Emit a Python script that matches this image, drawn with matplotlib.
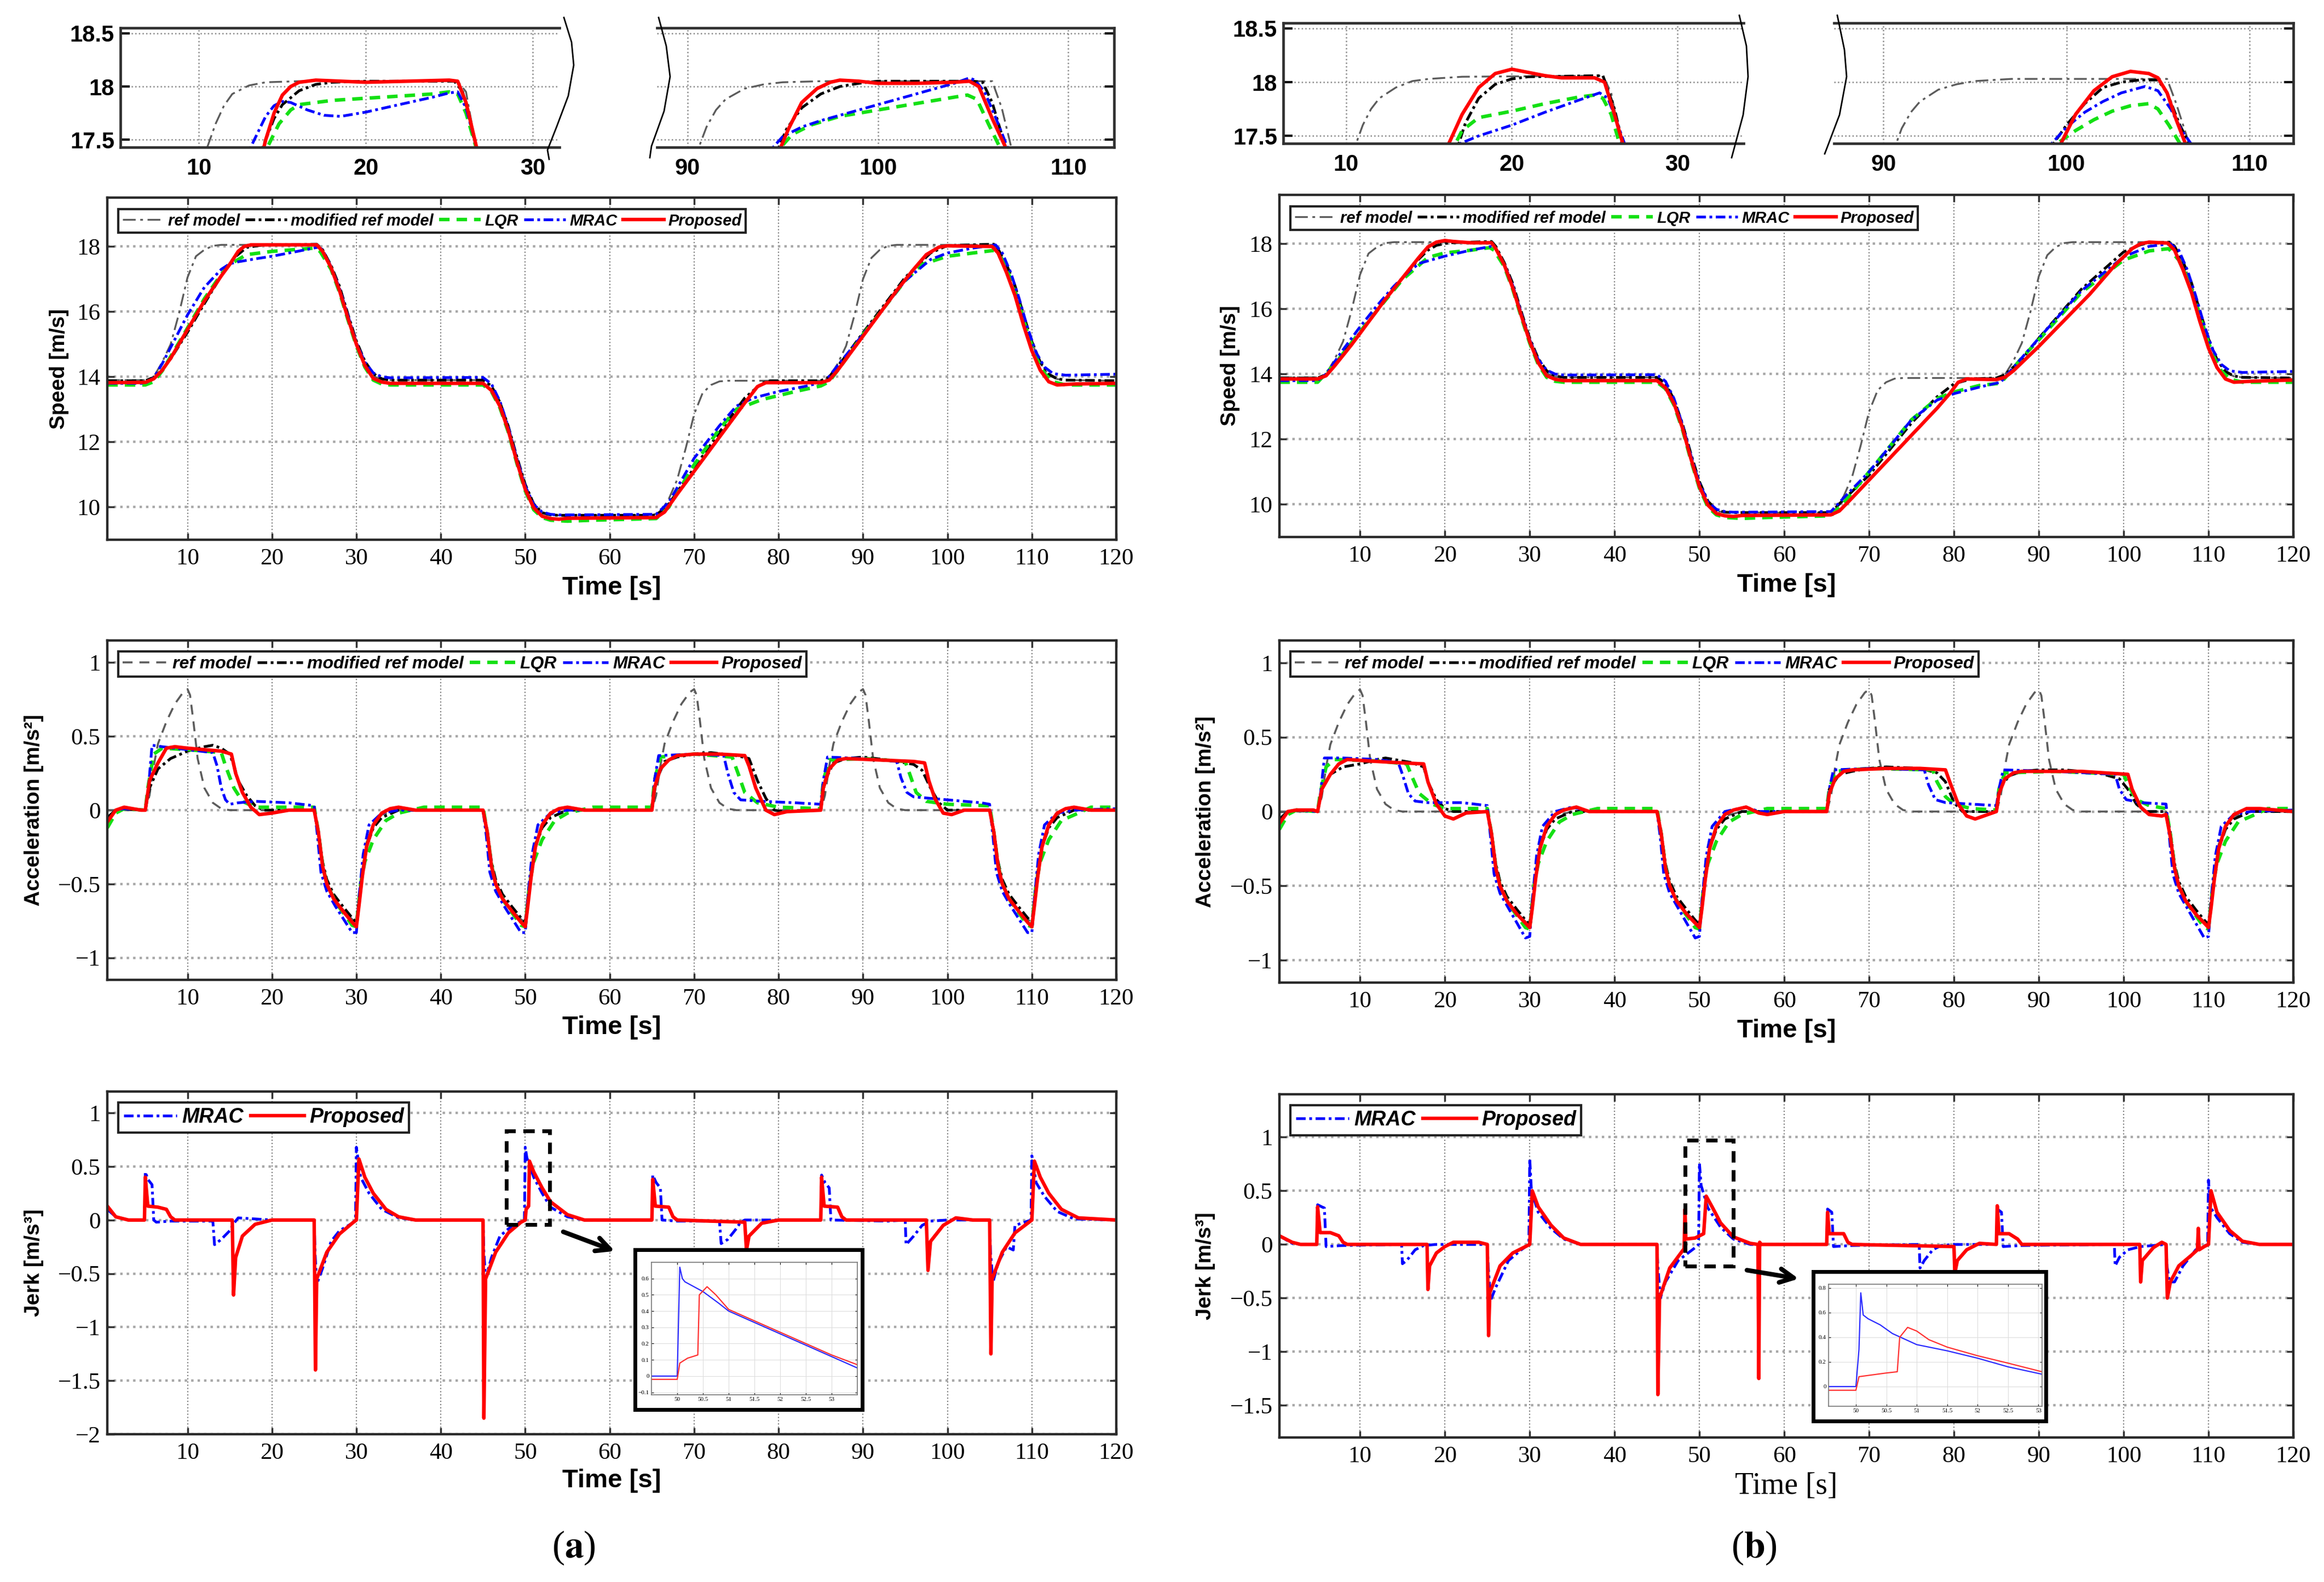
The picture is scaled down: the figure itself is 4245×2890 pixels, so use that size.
import matplotlib.pyplot as plt
from matplotlib import font_manager
from matplotlib.lines import Line2D
from matplotlib.patches import Rectangle

W, H = 4245, 2890

installed = {f.name for f in font_manager.fontManager.ttflist}
NARROW = 'Liberation Sans Narrow' if 'Liberation Sans Narrow' in installed else 'Liberation Sans'
SERIF = 'Liberation Serif'
SANS = 'Liberation Sans'

# ---------------- data: speed ----------------
time_ticks = [10, 20, 30, 40, 50, 60, 70, 80, 90, 100, 110, 120]
labels_main = ['ref model', 'modified ref model', 'LQR', 'MRAC', 'Proposed']

spd_ref = [(0.5, 13.9), (5, 13.9), (6, 14.0), (7, 14.45), (8, 15.0), (9, 15.95), (10, 17.05),
           (11, 17.7), (12, 17.9), (13, 18.02), (14, 18.05), (25.3, 18.05), (26, 17.88), (27, 17.4),
           (28, 16.72), (29, 15.85), (30, 15.02), (31, 14.4), (32, 14.02), (33, 13.92), (34, 13.9),
           (45, 13.9), (46, 13.72), (47, 13.2), (48, 12.45), (49, 11.5), (50, 10.65), (51, 10.05),
           (52, 9.8), (53, 9.75), (65, 9.75), (66, 9.85), (67, 10.25), (68, 10.85), (69, 11.8),
           (70, 12.85), (71, 13.5), (72, 13.75), (73, 13.86), (74, 13.88), (85, 13.88), (86, 13.98),
           (87, 14.4), (88, 14.95), (89, 15.9), (90, 17.0), (91, 17.65), (92, 17.9), (93, 18.02),
           (94, 18.05), (105.5, 18.05), (106, 17.9), (107, 17.42), (108, 16.75), (109, 15.88),
           (110, 15.05), (111, 14.42), (112, 14.05), (113, 13.93), (114, 13.9), (120, 13.88)]

spd_a_mod = [(0.5, 13.88), (5, 13.88), (6, 13.98), (7, 14.22), (8, 14.55), (10, 15.37), (12, 16.25),
             (14, 17.1), (15.5, 17.65), (17, 17.97), (19, 18.05), (25.3, 18.07), (26, 17.9), (27, 17.42),
             (28, 16.78), (29, 15.92), (30, 15.1), (31, 14.48), (32, 14.1), (33, 13.94), (34, 13.9),
             (45, 13.9), (46, 13.72), (47, 13.22), (48, 12.48), (49, 11.55), (50, 10.7), (51, 10.1),
             (52, 9.83), (53, 9.76), (54, 9.75), (65.5, 9.75), (67, 10.1), (70, 11.2), (73, 12.3),
             (76, 13.35), (78, 13.8), (79, 13.88), (85, 13.88), (86, 14.0), (88, 14.65), (90, 15.35),
             (95, 17.05), (98, 17.8), (100, 18.03), (105.5, 18.07), (106, 17.92), (107, 17.45),
             (108, 16.8), (109, 15.92), (110, 15.08), (111, 14.45), (112, 14.08), (113, 13.94),
             (114, 13.9), (120, 13.88)]

spd_a_lqr = [(0.5, 13.75), (5, 13.75), (6, 13.85), (7, 14.18), (8, 14.62), (10, 15.5), (12, 16.4),
             (14, 17.15), (15, 17.45), (17, 17.75), (20, 17.85), (25, 17.95), (25.7, 17.85), (27, 17.3),
             (28, 16.6), (29, 15.75), (30, 14.95), (31, 14.3), (32, 13.9), (33, 13.78), (34, 13.75),
             (45, 13.75), (46, 13.55), (47, 13.05), (48, 12.3), (49, 11.35), (50, 10.5), (51, 9.92),
             (52, 9.68), (53, 9.6), (55, 9.57), (58, 9.6), (65.5, 9.65), (67, 10.0), (70, 11.3),
             (73, 12.4), (75, 13.0), (78, 13.3), (82, 13.55), (85, 13.72), (86, 13.85), (88, 14.55),
             (90, 15.3), (95, 16.95), (97, 17.45), (100, 17.7), (103, 17.8), (105.5, 17.88),
             (106.5, 17.6), (107.5, 17.0), (108.5, 16.2), (109.5, 15.35), (110.5, 14.6), (111.5, 14.1),
             (112.5, 13.85), (114, 13.75), (120, 13.75)]

spd_a_mrac = [(0.5, 13.8), (5, 13.8), (6, 13.97), (7, 14.4), (8, 14.9), (10, 15.9), (12, 16.75),
              (14, 17.3), (15, 17.47), (16, 17.53), (18, 17.62), (20, 17.7), (23, 17.85), (25.5, 17.98),
              (26, 17.9), (27, 17.38), (28, 16.72), (29, 15.88), (30, 15.05), (31, 14.45), (32, 14.12),
              (33, 14.0), (34, 13.97), (45, 13.98), (46, 13.78), (47, 13.25), (48, 12.45), (49, 11.5),
              (50, 10.65), (51, 10.08), (52, 9.85), (53, 9.78), (54, 9.76), (65.5, 9.78), (67, 10.15),
              (70, 11.5), (73, 12.5), (75, 13.1), (77, 13.35), (80, 13.55), (83, 13.7), (85.5, 13.85),
              (87, 14.35), (90, 15.3), (95, 16.95), (98, 17.6), (100, 17.8), (103, 17.95),
              (105.7, 18.05), (106.5, 17.8), (107.5, 17.2), (108.5, 16.4), (109.5, 15.5),
              (110.5, 14.75), (111.5, 14.3), (112.5, 14.1), (114, 14.05), (120, 14.08)]

spd_a_prop = [(0.5, 13.82), (5, 13.83), (6, 13.94), (7, 14.2), (8, 14.57), (10, 15.45), (12, 16.33),
              (14, 17.1), (15, 17.45), (16, 17.85), (16.7, 18.0), (17.5, 18.05), (25.3, 18.05),
              (26, 17.85), (27, 17.35), (28, 16.65), (29, 15.8), (30, 15.0), (31, 14.35), (32, 13.95),
              (33, 13.84), (34, 13.8), (45, 13.8), (46, 13.58), (47, 13.1), (48, 12.35), (49, 11.4),
              (50, 10.55), (51, 9.98), (52, 9.72), (53, 9.65), (54, 9.63), (55, 9.66), (65.5, 9.68),
              (66.5, 9.85), (68, 10.4), (70, 11.1), (72, 11.8), (74, 12.5), (76, 13.2), (77.5, 13.7),
              (78.5, 13.82), (85, 13.82), (86, 13.9), (87, 14.2), (88, 14.55), (90, 15.25), (92, 15.95),
              (94, 16.65), (96, 17.3), (97.5, 17.75), (99, 17.98), (100, 18.02), (105.3, 18.0),
              (106, 17.8), (107, 17.2), (108, 16.5), (109, 15.6), (110, 14.8), (111, 14.2), (112, 13.85),
              (113, 13.75), (115, 13.78), (120, 13.8)]

spd_b_mod = [(0.5, 13.88), (5, 13.88), (6, 13.98), (7, 14.3), (9, 14.95), (11, 15.6), (13, 16.3),
             (15, 16.95), (17, 17.55), (18, 17.8), (19, 17.95), (20.5, 18.03), (25.5, 18.07),
             (26, 17.92), (27, 17.42), (28, 16.78), (29, 15.92), (30, 15.1), (31, 14.48), (32, 14.1),
             (33, 13.94), (34, 13.9), (45, 13.9), (46, 13.72), (47, 13.22), (48, 12.48), (49, 11.55),
             (50, 10.7), (51, 10.1), (52, 9.83), (53, 9.76), (54, 9.75), (65.5, 9.75), (67, 10.15),
             (70, 10.9), (75, 12.5), (78, 13.3), (80, 13.7), (82, 13.85), (85, 13.88), (86, 13.98),
             (88, 14.45), (90, 15.1), (95, 16.6), (100, 17.75), (102, 17.97), (103, 18.03),
             (105.5, 18.05), (106, 17.92), (107, 17.45), (108, 16.8), (109, 15.92), (110, 15.08),
             (111, 14.45), (112, 14.08), (113, 13.94), (114, 13.9), (120, 13.88)]

spd_b_lqr = [(0.5, 13.75), (5, 13.75), (7, 14.3), (10, 15.3), (12, 15.95), (15, 16.9), (17, 17.35),
             (18, 17.58), (20, 17.72), (23, 17.8), (25.3, 17.88), (25.8, 17.8), (27, 17.3), (28, 16.6),
             (29, 15.75), (30, 14.95), (31, 14.3), (32, 13.9), (33, 13.78), (34, 13.75), (45, 13.75),
             (46, 13.55), (47, 13.05), (48, 12.3), (49, 11.35), (50, 10.5), (51, 9.92), (52, 9.68),
             (53, 9.6), (55, 9.57), (58, 9.6), (65.5, 9.65), (67, 10.05), (70, 11.0), (75, 12.6),
             (78, 13.25), (80, 13.45), (83, 13.65), (85.5, 13.72), (88, 14.5), (90, 15.05), (95, 16.5),
             (100, 17.5), (103, 17.78), (105.3, 17.85), (106.5, 17.5), (107.5, 16.95), (108.5, 16.2),
             (109.5, 15.35), (110.5, 14.6), (111.5, 14.1), (112.5, 13.85), (114, 13.75), (120, 13.75)]

spd_b_mrac = [(0.5, 13.8), (5, 13.8), (6, 14.0), (8, 14.75), (10, 15.45), (12, 16.1), (14, 16.7),
              (16, 17.2), (17, 17.4), (20, 17.62), (23, 17.8), (25.5, 17.92), (26, 17.85), (27, 17.38),
              (28, 16.72), (29, 15.88), (30, 15.05), (31, 14.45), (32, 14.12), (33, 14.0), (34, 13.97),
              (45, 13.98), (46, 13.78), (47, 13.25), (48, 12.45), (49, 11.5), (50, 10.65), (51, 10.08),
              (52, 9.85), (53, 9.78), (54, 9.76), (65.5, 9.78), (67, 10.2), (70, 11.0), (75, 12.6),
              (78, 13.2), (80, 13.4), (83, 13.6), (85.5, 13.75), (88, 14.5), (90, 15.1), (95, 16.55),
              (100, 17.6), (103, 17.92), (105.5, 18.0), (106.5, 17.8), (107.5, 17.2), (108.5, 16.4),
              (109.5, 15.5), (110.5, 14.75), (111.5, 14.3), (112.5, 14.1), (114, 14.05), (120, 14.08)]

spd_b_prop = [(0.5, 13.85), (5, 13.85), (6, 13.95), (7, 14.25), (9, 14.9), (11, 15.6), (13, 16.3),
              (15, 16.95), (17, 17.6), (18, 17.9), (19, 18.05), (20, 18.1), (21, 18.07), (23, 18.03),
              (25.5, 18.03), (26, 17.85), (27, 17.35), (28, 16.65), (29, 15.8), (30, 15.0), (31, 14.35),
              (32, 13.95), (33, 13.84), (34, 13.8), (45, 13.8), (46, 13.58), (47, 13.1), (48, 12.35),
              (49, 11.4), (50, 10.55), (51, 9.98), (52, 9.72), (53, 9.65), (54, 9.63), (55, 9.66),
              (65.5, 9.68), (66.5, 9.8), (68, 10.2), (70, 10.75), (72, 11.3), (74, 11.85), (76, 12.4),
              (78, 12.95), (79.5, 13.4), (80.5, 13.75), (81.5, 13.85), (85, 13.83), (86, 13.9),
              (87, 14.1), (90, 14.85), (93, 15.65), (96, 16.45), (99, 17.35), (100, 17.6), (101, 17.85),
              (102, 18.0), (103, 18.05), (105.2, 18.02), (106, 17.8), (107, 17.2), (108, 16.5),
              (109, 15.6), (110, 14.8), (111, 14.2), (112, 13.85), (113, 13.75), (115, 13.78),
              (120, 13.82)]

# ---------------- data: speed close-ups (top strips) ----------------
zm_a1_ref = [(10.5, 17.43), (11, 17.65), (11.5, 17.82), (12, 17.93), (13, 18.01), (14, 18.04),
             (16, 18.05), (25.5, 18.05), (26, 17.95), (26.6, 17.43), (27, 17.2)]
zm_a1_mod = [(13.5, 17.3), (14, 17.5), (14.5, 17.7), (15, 17.83), (16, 17.96), (17, 18.02),
             (18, 18.04), (20, 18.05), (25.3, 18.05), (25.8, 17.95), (26.6, 17.43), (27, 17.2)]
zm_a1_lqr = [(13.8, 17.3), (14.1, 17.43), (14.8, 17.65), (15.5, 17.78), (16, 17.83), (18, 17.87),
             (20, 17.89), (22, 17.91), (24, 17.93), (25, 17.95), (25.5, 17.93), (26, 17.75),
             (26.6, 17.43), (27, 17.2)]
zm_a1_mrac = [(12.7, 17.3), (13.1, 17.43), (14, 17.72), (14.5, 17.82), (15, 17.86), (15.5, 17.85),
              (16.5, 17.78), (17.5, 17.73), (18.5, 17.72), (20, 17.76), (22, 17.83), (24, 17.9),
              (25, 17.94), (25.5, 17.95), (26, 17.8), (26.6, 17.45), (27, 17.2)]
zm_a1_prop = [(13.7, 17.3), (14, 17.5), (14.5, 17.75), (15, 17.92), (15.5, 18.0), (16, 18.04),
              (17, 18.06), (20, 18.04), (25, 18.06), (25.5, 18.05), (26, 17.85), (26.6, 17.45),
              (27, 17.2)]

zm_a2_ref = [(90.4, 17.3), (90.6, 17.43), (91, 17.62), (91.5, 17.78), (92, 17.88), (93, 17.98),
             (94, 18.02), (95, 18.04), (97, 18.05), (106, 18.05), (106.5, 17.8), (107, 17.43),
             (107.3, 17.2)]
zm_a2_mod = [(94.6, 17.3), (94.8, 17.43), (95.2, 17.6), (96, 17.8), (97, 17.93), (98, 18.0),
             (99, 18.03), (100, 18.05), (105, 18.05), (105.5, 18.04), (106, 17.85), (106.7, 17.43),
             (107, 17.2)]
zm_a2_lqr = [(94.7, 17.3), (94.9, 17.43), (95.5, 17.55), (96.5, 17.64), (98, 17.72), (100, 17.78),
             (102, 17.84), (104, 17.9), (104.7, 17.92), (105.2, 17.88), (105.8, 17.65), (106.4, 17.43),
             (106.7, 17.2)]
zm_a2_mrac = [(94.3, 17.3), (94.5, 17.43), (95, 17.53), (96, 17.62), (97, 17.68), (98, 17.73),
              (100, 17.83), (102, 17.93), (104, 18.03), (104.8, 18.08), (105.1, 18.06), (105.6, 17.95),
              (106.2, 17.7), (106.8, 17.43), (107.1, 17.2)]
zm_a2_prop = [(94.7, 17.3), (94.9, 17.43), (95.3, 17.6), (96, 17.85), (96.8, 17.98), (97.5, 18.04),
              (98, 18.06), (99, 18.05), (100, 18.03), (102, 18.03), (104, 18.04), (104.8, 18.05),
              (105.3, 18.0), (106, 17.7), (106.7, 17.43), (107, 17.2)]

zm_b1_ref = [(10.4, 17.3), (10.6, 17.43), (11, 17.6), (11.5, 17.75), (12, 17.85), (13, 17.95),
             (14, 18.01), (15, 18.03), (17, 18.05), (25.5, 18.06), (26, 17.9), (26.6, 17.43), (27, 17.2)]
zm_b1_mod = [(16.6, 17.3), (16.8, 17.43), (17.2, 17.62), (18, 17.85), (19, 17.98), (20, 18.03),
             (21, 18.05), (25.5, 18.06), (26.2, 17.75), (26.7, 17.43), (27, 17.2)]
zm_b1_lqr = [(16.4, 17.3), (16.6, 17.43), (17, 17.55), (18, 17.67), (20, 17.73), (22, 17.8),
             (24, 17.86), (25, 17.88), (25.5, 17.85), (26, 17.7), (26.5, 17.43), (26.8, 17.2)]
zm_b1_mrac = [(16.6, 17.3), (16.9, 17.43), (18, 17.5), (20, 17.6), (22, 17.72), (24, 17.83),
              (25.3, 17.9), (25.8, 17.85), (26.3, 17.65), (26.8, 17.43), (27.1, 17.2)]
zm_b1_prop = [(16.0, 17.3), (16.2, 17.43), (17, 17.7), (18, 17.95), (19, 18.08), (20, 18.12),
              (21, 18.09), (22, 18.06), (23, 18.04), (25, 18.04), (25.6, 18.0), (26.2, 17.7),
              (26.7, 17.43), (27, 17.2)]

zm_b2_ref = [(90.5, 17.3), (90.7, 17.43), (91, 17.57), (91.5, 17.72), (92, 17.82), (93, 17.93),
             (94, 17.98), (95, 18.01), (97, 18.03), (105.5, 18.03), (106, 17.8), (106.7, 17.43),
             (107, 17.2)]
zm_b2_mod = [(99.1, 17.3), (99.3, 17.43), (100, 17.6), (101, 17.8), (102, 17.95), (103, 18.0),
             (104, 18.02), (105, 18.02), (105.5, 17.9), (106.2, 17.6), (106.7, 17.43), (107, 17.2)]
zm_b2_lqr = [(99.3, 17.3), (99.5, 17.43), (100.5, 17.55), (101.5, 17.65), (102.5, 17.73),
             (103.5, 17.78), (104.5, 17.8), (105, 17.75), (105.6, 17.6), (106.2, 17.43), (106.5, 17.2)]
zm_b2_mrac = [(99.0, 17.3), (99.2, 17.43), (100, 17.58), (101, 17.72), (102, 17.82), (103, 17.9),
              (104.3, 17.96), (105, 17.92), (105.7, 17.75), (106.3, 17.55), (106.8, 17.43), (107.1, 17.2)]
zm_b2_prop = [(99.5, 17.3), (99.7, 17.43), (100.5, 17.7), (101.5, 17.92), (102.5, 18.05),
              (103.5, 18.1), (104.5, 18.08), (105, 18.04), (105.5, 17.9), (106, 17.65), (106.5, 17.43),
              (106.8, 17.2)]

# ---------------- data: acceleration ----------------
acc_ref = [(0.5, 0), (5, 0), (5.5, 0.1), (6, 0.3), (6.5, 0.45), (7.5, 0.6), (8.5, 0.72), (9.5, 0.8),
           (10, 0.82), (10.3, 0.78), (10.7, 0.6), (11.2, 0.35), (12, 0.15), (13, 0.05), (14, 0.01),
           (15, 0), (25, 0), (25.5, -0.15), (26, -0.38), (26.5, -0.5), (27.3, -0.6), (28.5, -0.68),
           (29.5, -0.74), (30, -0.76), (30.3, -0.6), (30.7, -0.4), (31.2, -0.22), (32, -0.1),
           (33, -0.03), (35, 0), (45, 0), (45.5, -0.15), (46, -0.38), (46.5, -0.5), (47.3, -0.6),
           (48.5, -0.68), (49.5, -0.74), (50, -0.76), (50.3, -0.6), (50.7, -0.4), (51.2, -0.22),
           (52, -0.1), (53, -0.03), (55, 0), (65, 0), (65.5, 0.1), (66, 0.3), (66.5, 0.45), (67.5, 0.6),
           (68.5, 0.72), (69.5, 0.8), (70, 0.82), (70.3, 0.78), (70.7, 0.6), (71.2, 0.35), (72, 0.15),
           (73, 0.05), (74, 0.01), (75, 0), (85, 0), (85.5, 0.1), (86, 0.3), (86.5, 0.45), (87.5, 0.6),
           (88.5, 0.72), (89.5, 0.8), (90, 0.82), (90.3, 0.78), (90.7, 0.6), (91.2, 0.35), (92, 0.15),
           (93, 0.05), (94, 0.01), (95, 0), (105, 0), (105.5, -0.15), (106, -0.38), (106.5, -0.5),
           (107.3, -0.6), (108.5, -0.68), (109.5, -0.74), (110, -0.76), (110.3, -0.6), (110.7, -0.4),
           (111.2, -0.22), (112, -0.1), (113, -0.03), (115, 0), (120, 0)]

acc_a_mod = [(0.5, -0.05), (1.5, 0.0), (2.5, 0.01), (4.5, 0.0), (5, 0.0), (5.5, 0.15), (6.5, 0.28),
             (8, 0.35), (10, 0.4), (12, 0.43), (13, 0.44), (14, 0.42), (15, 0.38), (15.5, 0.3),
             (16, 0.2), (17, 0.1), (18, 0.03), (19, 0.0), (25, 0.0), (25.5, -0.14), (26, -0.35),
             (26.5, -0.47), (27.3, -0.57), (28.5, -0.66), (29.5, -0.73), (30, -0.76), (30.3, -0.6),
             (30.7, -0.42), (31.2, -0.25), (32, -0.12), (33, -0.05), (35, 0.0), (45, 0.0), (45.5, -0.14),
             (46, -0.35), (46.5, -0.47), (47.3, -0.57), (48.5, -0.66), (49.5, -0.73), (50, -0.76),
             (50.3, -0.6), (50.7, -0.42), (51.2, -0.25), (52, -0.12), (53, -0.05), (55, 0.0), (65, 0.0),
             (65.5, 0.2), (66.5, 0.33), (68, 0.36), (70, 0.38), (72, 0.39), (75, 0.37), (76.5, 0.35),
             (77.5, 0.2), (78.5, 0.08), (79.5, 0.0), (80.5, -0.01), (85, 0.0), (85.5, 0.2), (86.5, 0.32),
             (88, 0.35), (90, 0.36), (93, 0.34), (96, 0.31), (97, 0.27), (98, 0.15), (99, 0.05),
             (100, 0.0), (105, 0.0), (105.5, -0.14), (106, -0.35), (106.5, -0.47), (107.3, -0.57),
             (108.5, -0.66), (109.5, -0.73), (110, -0.76), (110.3, -0.6), (110.7, -0.42),
             (111.2, -0.25), (112, -0.12), (113, -0.05), (115, 0.0), (120, 0.0)]

acc_a_lqr = [(0.5, -0.12), (1.5, -0.02), (2.5, 0.01), (5, 0.0), (5.3, 0.15), (6, 0.38), (7, 0.42),
             (10, 0.41), (14, 0.39), (14.5, 0.3), (15.5, 0.15), (16.5, 0.06), (18, 0.02), (25, 0.02),
             (25.5, -0.15), (26, -0.37), (26.5, -0.5), (27.5, -0.62), (28.5, -0.7), (29.5, -0.78),
             (30, -0.79), (30.5, -0.5), (31, -0.35), (32, -0.2), (33.5, -0.07), (35, -0.02),
             (38, 0.02), (45, 0.02), (45.5, -0.15), (46, -0.37), (46.5, -0.5), (47.5, -0.62),
             (48.5, -0.7), (49.5, -0.78), (50, -0.79), (50.5, -0.5), (51, -0.35), (52, -0.2),
             (53.5, -0.07), (55, -0.02), (58, 0.02), (65, 0.02), (65.3, 0.2), (66, 0.36), (70, 0.38),
             (74.5, 0.36), (75.2, 0.25), (76, 0.12), (77.5, 0.05), (80, 0.02), (85, 0.01), (85.3, 0.2),
             (86, 0.34), (90, 0.35), (95, 0.33), (95.5, 0.25), (96.3, 0.12), (97.5, 0.06), (100, 0.04),
             (105, 0.03), (105.5, -0.15), (106, -0.37), (106.5, -0.5), (107.5, -0.62), (108.5, -0.7),
             (109.5, -0.78), (110, -0.79), (110.5, -0.5), (111, -0.35), (112, -0.2), (113.5, -0.07),
             (115.5, -0.02), (117, 0.02), (120, 0.02)]

acc_a_mrac = [(0.5, -0.08), (1.5, 0.0), (2.5, 0.01), (5, 0.0), (5.3, 0.1), (5.8, 0.44), (7, 0.43),
              (10, 0.41), (13, 0.39), (13.5, 0.3), (14, 0.15), (14.5, 0.07), (15, 0.04), (16, 0.05),
              (18, 0.06), (22, 0.05), (25, 0.03), (25.4, -0.18), (25.8, -0.42), (26.5, -0.55),
              (27.5, -0.65), (28.5, -0.74), (29.5, -0.83), (30, -0.83), (30.3, -0.6), (30.8, -0.3),
              (31.5, -0.1), (33, -0.02), (35, 0.0), (45, 0.0), (45.4, -0.18), (45.8, -0.42),
              (46.5, -0.55), (47.5, -0.65), (48.5, -0.74), (49.5, -0.83), (50, -0.83), (50.3, -0.6),
              (50.8, -0.3), (51.5, -0.1), (53, -0.02), (55, 0.0), (65, 0.0), (65.3, 0.2), (65.8, 0.37),
              (70, 0.38), (73.5, 0.37), (74, 0.25), (74.7, 0.12), (75.5, 0.07), (78, 0.06), (82, 0.05),
              (85, 0.04), (85.3, 0.2), (85.8, 0.36), (90, 0.35), (94, 0.33), (94.5, 0.22), (95.2, 0.12),
              (96, 0.09), (100, 0.07), (104, 0.05), (105, 0.04), (105.4, -0.18), (105.8, -0.42),
              (106.5, -0.55), (107.5, -0.65), (108.5, -0.74), (109.5, -0.83), (110, -0.83),
              (110.3, -0.6), (110.8, -0.3), (111.5, -0.1), (113, -0.02), (115, 0.0), (120, 0.01)]

acc_a_prop = [(0.5, -0.08), (1.5, 0.0), (2.5, 0.02), (4.5, 0.0), (5, 0.0), (5.5, 0.2), (6.5, 0.32),
              (7.5, 0.42), (8.5, 0.43), (10, 0.42), (12, 0.41), (14, 0.4), (15.2, 0.38), (15.7, 0.25),
              (16.5, 0.12), (17.5, 0.02), (18.5, -0.03), (20, -0.02), (22, 0.0), (25, 0.0),
              (25.5, -0.15), (26, -0.38), (26.5, -0.5), (27.3, -0.6), (28.5, -0.69), (29.5, -0.76),
              (30, -0.79), (30.3, -0.65), (30.7, -0.45), (31.2, -0.25), (32, -0.1), (33, -0.02),
              (34, 0.01), (35, 0.02), (37, 0.0), (45, 0.0), (45.5, -0.15), (46, -0.38), (46.5, -0.5),
              (47.3, -0.6), (48.5, -0.69), (49.5, -0.76), (50, -0.79), (50.3, -0.65), (50.7, -0.45),
              (51.2, -0.25), (52, -0.1), (53, -0.02), (54, 0.01), (55, 0.02), (57, 0.0), (65, 0.0),
              (65.3, 0.15), (66, 0.28), (67, 0.34), (68, 0.37), (70, 0.38), (73, 0.38), (76, 0.37),
              (76.5, 0.3), (77.3, 0.15), (78.5, 0.0), (79.5, -0.03), (81, -0.01), (85, 0.0),
              (85.3, 0.15), (86, 0.28), (87, 0.34), (88, 0.35), (92, 0.34), (96, 0.33), (97.3, 0.32),
              (97.8, 0.2), (98.5, 0.08), (99.5, -0.02), (100.5, -0.03), (102, 0.0), (105, 0.0),
              (105.5, -0.15), (106, -0.38), (106.5, -0.5), (107.3, -0.6), (108.5, -0.69),
              (109.5, -0.76), (110, -0.79), (110.3, -0.65), (110.7, -0.45), (111.2, -0.25), (112, -0.1),
              (113, -0.02), (114, 0.01), (115, 0.02), (117, 0.0), (120, 0.0)]

acc_b_mod = [(0.5, -0.05), (1.5, 0.0), (2.5, 0.01), (5, 0.0), (5.5, 0.15), (6.5, 0.25), (8, 0.3),
             (10, 0.32), (12, 0.35), (13, 0.36), (14, 0.35), (16, 0.33), (17.5, 0.3), (18, 0.2),
             (19, 0.08), (20, 0.02), (21, 0.0), (25, 0.0), (25.5, -0.14), (26, -0.35), (26.5, -0.47),
             (27.3, -0.57), (28.5, -0.66), (29.5, -0.73), (30, -0.76), (30.3, -0.6), (30.7, -0.42),
             (31.2, -0.25), (32, -0.12), (33, -0.05), (35, 0.0), (45, 0.0), (45.5, -0.14), (46, -0.35),
             (46.5, -0.47), (47.3, -0.57), (48.5, -0.66), (49.5, -0.73), (50, -0.76), (50.3, -0.6),
             (50.7, -0.42), (51.2, -0.25), (52, -0.12), (53, -0.05), (55, 0.0), (65, 0.0), (65.3, 0.15),
             (66.5, 0.25), (68, 0.27), (70, 0.29), (72, 0.3), (76, 0.29), (78, 0.26), (79, 0.2),
             (80, 0.06), (81, 0.0), (85, 0.0), (85.3, 0.15), (86.5, 0.24), (88, 0.27), (90, 0.28),
             (93, 0.28), (97, 0.26), (99.5, 0.22), (100.5, 0.15), (101.5, 0.05), (102.5, 0.0),
             (105, 0.0), (105.5, -0.14), (106, -0.35), (106.5, -0.47), (107.3, -0.57), (108.5, -0.66),
             (109.5, -0.73), (110, -0.76), (110.3, -0.6), (110.7, -0.42), (111.2, -0.25), (112, -0.12),
             (113, -0.05), (115, 0.0), (120, 0.0)]

acc_b_lqr = [(0.5, -0.12), (1.5, -0.02), (2.5, 0.01), (5, 0.0), (5.3, 0.12), (6, 0.3), (7, 0.35),
             (12, 0.34), (15.5, 0.32), (16, 0.25), (17, 0.12), (18.5, 0.05), (20, 0.02), (25, 0.02),
             (25.5, -0.15), (26, -0.37), (26.5, -0.5), (27.5, -0.62), (28.5, -0.7), (29.5, -0.78),
             (30, -0.79), (30.5, -0.5), (31, -0.35), (32, -0.2), (33.5, -0.07), (35, -0.02), (38, 0.02),
             (45, 0.02), (45.5, -0.15), (46, -0.37), (46.5, -0.5), (47.5, -0.62), (48.5, -0.7),
             (49.5, -0.78), (50, -0.79), (50.5, -0.5), (51, -0.35), (52, -0.2), (53.5, -0.07),
             (55, -0.02), (58, 0.02), (65, 0.02), (65.3, 0.15), (66, 0.27), (70, 0.29), (77.5, 0.28),
             (78, 0.2), (79, 0.1), (80, 0.05), (82, 0.02), (85, 0.01), (85.3, 0.15), (86, 0.26),
             (92, 0.27), (100, 0.25), (100.5, 0.18), (101.5, 0.08), (103, 0.04), (105, 0.02),
             (105.5, -0.15), (106, -0.37), (106.5, -0.5), (107.5, -0.62), (108.5, -0.7), (109.5, -0.78),
             (110, -0.79), (110.5, -0.5), (111, -0.35), (112, -0.2), (113.5, -0.07), (115.5, -0.02),
             (117, 0.02), (120, 0.02)]

acc_b_mrac = [(0.5, -0.08), (1.5, 0.0), (2.5, 0.01), (5, 0.0), (5.3, 0.1), (5.8, 0.36), (8, 0.36),
              (12, 0.35), (14.5, 0.33), (15, 0.25), (15.7, 0.12), (16.5, 0.07), (18, 0.06), (22, 0.06),
              (25, 0.04), (25.4, -0.18), (25.8, -0.42), (26.5, -0.55), (27.5, -0.65), (28.5, -0.75),
              (29.5, -0.85), (30, -0.84), (30.3, -0.6), (30.8, -0.3), (31.5, -0.1), (33, 0.0),
              (35, 0.03), (37, 0.0), (45, 0.0), (45.4, -0.18), (45.8, -0.42), (46.5, -0.55),
              (47.5, -0.65), (48.5, -0.75), (49.5, -0.85), (50, -0.84), (50.3, -0.6), (50.8, -0.3),
              (51.5, -0.1), (53, 0.0), (55.5, 0.03), (57, 0.0), (65, 0.0), (65.3, 0.15), (65.8, 0.28),
              (70, 0.29), (76.5, 0.28), (77, 0.18), (77.8, 0.08), (79, 0.06), (82, 0.05), (85, 0.04),
              (85.3, 0.15), (85.8, 0.28), (92, 0.27), (99, 0.25), (99.5, 0.15), (100.3, 0.08),
              (102, 0.06), (105, 0.05), (105.4, -0.18), (105.8, -0.42), (106.5, -0.55), (107.5, -0.65),
              (108.5, -0.75), (109.5, -0.85), (110, -0.84), (110.3, -0.6), (110.8, -0.3),
              (111.5, -0.1), (113, -0.02), (115, 0.0), (120, 0.01)]

acc_b_prop = [(0.5, -0.08), (1.5, 0.0), (2.5, 0.01), (4.5, 0.01), (5, 0.0), (5.5, 0.15), (6.5, 0.25),
              (7.5, 0.32), (8.5, 0.35), (11, 0.34), (14, 0.33), (17.5, 0.32), (18, 0.2), (19, 0.05),
              (20, -0.03), (21, -0.05), (22.5, -0.01), (25, 0.0), (25.5, -0.15), (26, -0.38),
              (26.5, -0.5), (27.3, -0.6), (28.5, -0.69), (29.5, -0.75), (30, -0.78), (30.3, -0.65),
              (30.7, -0.45), (31.2, -0.25), (32, -0.1), (33, -0.02), (34, 0.01), (35.5, 0.03),
              (37, 0.0), (45, 0.0), (45.5, -0.15), (46, -0.38), (46.5, -0.5), (47.3, -0.6),
              (48.5, -0.69), (49.5, -0.75), (50, -0.78), (50.3, -0.65), (50.7, -0.45), (51.2, -0.25),
              (52, -0.1), (53, -0.02), (54, 0.01), (55.5, 0.03), (57, -0.01), (58, -0.02), (60, 0.0),
              (65, 0.0), (65.3, 0.12), (66, 0.22), (67, 0.27), (68, 0.28), (72, 0.29), (76, 0.29),
              (79, 0.28), (79.5, 0.2), (80.5, 0.05), (81.5, -0.03), (82.5, -0.05), (84, -0.02),
              (85, 0.0), (85.3, 0.12), (86, 0.22), (87, 0.26), (88, 0.27), (95, 0.27), (100.5, 0.25),
              (101, 0.15), (102, 0.03), (103, -0.02), (104.5, -0.03), (105, -0.02), (105.5, -0.17),
              (106, -0.38), (106.5, -0.5), (107.3, -0.6), (108.5, -0.69), (109.5, -0.75), (110, -0.78),
              (110.3, -0.65), (110.7, -0.45), (111.2, -0.25), (112, -0.1), (113, -0.02), (114.5, 0.02),
              (116, 0.02), (120, 0.0)]

# ---------------- data: jerk ----------------
jrk_a_mrac = [(0.5, 0.1), (1.5, 0.03), (3, 0.0), (4.9, 0.0), (5.0, 0.45), (5.3, 0.38), (5.8, 0.33),
              (6.0, 0.0), (6.3, -0.02), (8, -0.01), (13, -0.01), (13.2, -0.23), (14, -0.18),
              (15, -0.1), (15.5, -0.03), (16, 0.02), (18, 0.01), (20, 0.0), (25, 0.0), (25.1, -0.3),
              (25.3, -0.6), (26, -0.45), (27, -0.2), (28, -0.1), (29.5, -0.03), (29.9, 0.0),
              (30.0, 0.68), (30.5, 0.4), (31.5, 0.25), (33, 0.1), (35, 0.02), (37, 0.0), (45, 0.0),
              (45.1, -0.3), (45.3, -0.55), (46, -0.35), (47, -0.15), (48.5, -0.05), (49.9, 0.0),
              (50.0, 0.68), (50.2, 0.58), (51, 0.4), (52, 0.25), (53, 0.12), (55, 0.03), (57, 0.0),
              (65, 0.0), (65.1, 0.42), (65.5, 0.35), (66, 0.3), (66.2, 0.0), (68, -0.01), (73, -0.01),
              (73.2, -0.22), (74, -0.18), (75, -0.08), (75.5, -0.02), (76, 0.0), (85, 0.0),
              (85.1, 0.42), (85.5, 0.35), (86, 0.3), (86.2, 0.0), (93, -0.01), (95, 0.0),
              (95.1, -0.23), (96, -0.15), (97, -0.05), (98, -0.01), (100, 0.0), (105, 0.0),
              (105.1, -0.3), (105.4, -0.58), (106, -0.4), (107, -0.25), (107.8, -0.28), (108, -0.05),
              (109.9, 0.0), (110.0, 0.6), (110.5, 0.35), (111.5, 0.22), (113, 0.08), (115, 0.01),
              (120, 0.0)]

jrk_a_prop = [(0.5, 0.13), (1.5, 0.03), (3, 0.0), (4.9, 0.0), (5.0, 0.4), (5.3, 0.13), (6.5, 0.12),
              (7.5, 0.1), (8.0, 0.03), (8.5, 0.0), (15.3, 0.0), (15.45, -0.7), (15.7, -0.35),
              (16.5, -0.15), (18, -0.04), (20, 0.0), (25, 0.0), (25.15, -1.4), (25.3, -0.55),
              (26.5, -0.3), (28, -0.13), (29.5, -0.03), (30.0, 0.0), (30.3, 0.57), (31, 0.4),
              (32, 0.25), (33.5, 0.1), (35, 0.03), (37, 0.0), (45, 0.0), (45.1, -1.85), (45.3, -0.55),
              (46.5, -0.3), (48, -0.12), (49.5, -0.02), (50.0, 0.0), (50.1, 0.1), (50.4, 0.13),
              (50.5, 0.55), (51, 0.45), (52, 0.3), (53, 0.17), (55, 0.05), (57, 0.0), (65, 0.0),
              (65.1, 0.38), (65.4, 0.13), (67, 0.12), (67.5, 0.03), (68, 0.0), (76, -0.02),
              (76.2, -0.28), (76.5, -0.15), (78, -0.03), (80, 0.0), (85, 0.0), (85.1, 0.4), (85.4, 0.13),
              (87, 0.12), (87.5, 0.03), (88, 0.0), (97.5, 0.0), (97.7, -0.47), (98, -0.2), (99.5, -0.05),
              (101, 0.02), (103, 0.0), (105, 0.0), (105.15, -1.25), (105.3, -0.55), (106.5, -0.3),
              (108, -0.12), (109.5, -0.03), (110, 0.0), (110.3, 0.55), (111, 0.4), (112, 0.25),
              (113.5, 0.1), (115.5, 0.02), (120, 0.0)]

jrk_b_mrac = [(0.5, 0.08), (2, 0.01), (3, 0.0), (4.9, 0.0), (5.0, 0.37), (5.5, 0.35), (5.8, 0.34),
              (6.0, -0.02), (8, -0.01), (14.9, 0.0), (15, -0.18), (15.5, -0.15), (16.5, -0.05),
              (17.5, -0.01), (19, 0.0), (25, 0.0), (25.1, -0.2), (25.4, -0.52), (26, -0.4),
              (27.5, -0.15), (29, -0.05), (29.9, 0.0), (30.0, 0.8), (30.2, 0.5), (31, 0.3),
              (32.5, 0.15), (34, 0.05), (36, 0.0), (45, 0.0), (45.1, -0.2), (45.4, -0.5), (46, -0.35),
              (47.5, -0.15), (49.5, -0.03), (49.9, 0.0), (50.0, 0.76), (50.2, 0.55), (51, 0.34),
              (52.5, 0.16), (54, 0.05), (56, 0.0), (65, 0.0), (65.1, 0.33), (65.6, 0.3), (65.8, -0.02),
              (68, -0.01), (75.9, 0.0), (76, -0.22), (76.5, -0.15), (77.5, -0.05), (78.5, -0.01),
              (80, 0.0), (85, 0.0), (85.1, 0.33), (85.6, 0.3), (85.8, -0.02), (88, -0.01), (98.9, 0.0),
              (99, -0.2), (99.5, -0.12), (100.5, -0.05), (102, -0.02), (105, 0.0), (105.1, -0.2),
              (105.4, -0.35), (106, -0.35), (107, -0.2), (108.5, -0.05), (109.9, 0.0), (110.0, 0.6),
              (110.2, 0.35), (111, 0.25), (112.5, 0.1), (114, 0.02), (116, 0.0), (120, 0.0)]

jrk_b_prop = [(0.5, 0.08), (2, 0.02), (3, 0.0), (4.9, 0.0), (5.0, 0.35), (5.3, 0.11), (6.5, 0.11),
              (7.5, 0.08), (8.0, 0.02), (8.5, 0.0), (17.9, 0.0), (18.0, -0.42), (18.2, -0.2),
              (19, -0.08), (20, -0.02), (21, 0.02), (24, 0.02), (25, 0.0), (25.15, -0.85), (25.3, -0.45),
              (26.5, -0.2), (28, -0.08), (29.5, -0.02), (30, 0.0), (30.3, 0.5), (31, 0.35), (32.5, 0.18),
              (34, 0.06), (36, 0.0), (45, 0.0), (45.1, -1.4), (45.3, -0.5), (46.5, -0.22), (48, -0.06),
              (48.2, -0.04), (48.3, 0.33), (48.4, 0.05), (49.5, 0.06), (50.5, 0.1), (50.8, 0.45),
              (51.5, 0.35), (52.5, 0.2), (54, 0.07), (56, 0.01), (56.9, 0.0), (57.0, -1.25),
              (57.1, 0.02), (57.3, 0.0), (65, 0.0), (65.1, 0.3), (65.3, 0.1), (67, 0.1), (67.5, 0.02),
              (68, 0.0), (80, -0.02), (80.1, -0.27), (80.4, -0.15), (81.5, -0.05), (83, 0.01), (85, 0.0),
              (85.1, 0.36), (85.3, 0.1), (86.5, 0.1), (87.5, 0.05), (88, 0.0), (101.9, 0.0),
              (102, -0.35), (102.2, -0.15), (103.5, -0.03), (104.5, 0.02), (105, 0.0), (105.15, -0.5),
              (105.5, -0.35), (106.5, -0.2), (108, -0.1), (108.7, -0.05), (108.8, 0.15), (108.9, -0.05),
              (109.5, -0.02), (110, 0.0), (110.3, 0.5), (111, 0.3), (112.5, 0.13), (114, 0.03),
              (116, 0.0), (120, 0.0)]

# close-up of the jerk around t = 50 s
ins_a_mrac = [(49.5, 0.0), (50.0, 0.0), (50.05, 0.67), (50.1, 0.6), (50.15, 0.58), (50.5, 0.52),
              (50.8, 0.45), (51, 0.4), (51.5, 0.33), (52, 0.26), (52.5, 0.19), (53, 0.12), (53.5, 0.05)]
ins_a_prop = [(49.5, -0.02), (50.0, -0.02), (50.05, 0.08), (50.2, 0.11), (50.4, 0.13), (50.43, 0.5),
              (50.58, 0.55), (50.75, 0.5), (51, 0.41), (51.5, 0.34), (52, 0.27), (52.5, 0.2),
              (53, 0.13), (53.5, 0.07)]
ins_b_mrac = [(49.55, 0.0), (50.0, 0.0), (50.05, 0.3), (50.08, 0.76), (50.12, 0.58), (50.2, 0.55),
              (50.4, 0.5), (50.6, 0.43), (51, 0.34), (51.5, 0.29), (52, 0.23), (52.5, 0.16),
              (53.06, 0.1)]
ins_b_prop = [(49.55, -0.03), (50.0, -0.03), (50.05, 0.08), (50.2, 0.09), (50.5, 0.11), (50.68, 0.12),
              (50.72, 0.4), (50.85, 0.48), (51.0, 0.45), (51.2, 0.38), (51.5, 0.32), (52, 0.25),
              (52.5, 0.19), (53.06, 0.12)]

# ---------------- styles ----------------
STY = {
    'ref_spd': dict(color='#5c5c5c', lw=2.4, ls=(0, (7, 2.5, 1.5, 2.5))),
    'ref_acc': dict(color='#5c5c5c', lw=2.6, ls=(0, (5, 3.5))),
    'mod': dict(color='black', lw=3.6, ls=(0, (3.5, 1.3, 1, 1.3))),
    'lqr': dict(color='#14e014', lw=4.6, ls=(0, (3, 2))),
    'mrac': dict(color='#0000ff', lw=3.6, ls=(0, (3.5, 1.3, 1, 1.3))),
    'prop': dict(color='#ff0000', lw=4.6, ls='-'),
}


def px_axes(fig, x0, y0, x1, y1, **kw):
    return fig.add_axes([x0 / W, 1 - y1 / H, (x1 - x0) / W, (y1 - y0) / H], **kw)


def draw(ax, pts, style, label=None, **kw):
    t, v = zip(*pts)
    ax.plot(t, v, label=label, **STY[style], **kw)


def fmt(v):
    s = '%g' % v
    return s.replace('-', '\u2212')


def style_main(ax, yticks, ylim, ylabel, ylab_x, xlab_off, time_serif=False):
    ax.set_xlim(0.5, 120)
    ax.set_ylim(*ylim)
    ax.set_xticks(time_ticks)
    ax.set_xticklabels([fmt(v) for v in time_ticks], family=SERIF, fontsize=31)
    ax.set_yticks(yticks)
    ax.set_yticklabels([fmt(v) for v in yticks], family=SERIF, fontsize=31)
    ax.tick_params(direction='in', top=True, right=True, length=9, width=2.5, color='#333333')
    ax.tick_params(axis='x', pad=11)
    ax.tick_params(axis='y', pad=9)
    ax.grid(axis='x', ls=':', lw=1.6, color='#808080')
    ax.grid(axis='y', ls=':', lw=3.2, color='#a8a8a8')
    ax.set_axisbelow(True)
    for s in ax.spines.values():
        s.set_linewidth(3.2)
        s.set_color('#2a2a2a')
    if time_serif:
        ax.set_xlabel('Time [s]', family=SERIF, fontsize=40, va='top')
    else:
        ax.set_xlabel('Time [s]', family=NARROW, weight='bold', fontsize=34, va='top')
    ax.xaxis.set_label_coords(0.5, xlab_off)
    ax.set_ylabel(ylabel, family=SANS, weight='bold', fontsize=28)
    ax.yaxis.set_label_coords(ylab_x, 0.5)


def legend(ax, size, anchor, ncol):
    lg = ax.legend(loc='upper left', bbox_to_anchor=anchor, borderaxespad=0, ncol=ncol,
                   prop=dict(family=NARROW, weight='bold', style='italic', size=size),
                   handlelength=2.6, handletextpad=0.25, columnspacing=0.35,
                   borderpad=0.25, fancybox=False, framealpha=1)
    lg.get_frame().set_edgecolor('#222222')
    lg.get_frame().set_linewidth(3)


def style_zoom(ax, xlim, xticks, ylim, side):
    ax.set_xlim(*xlim)
    ax.set_ylim(*ylim)
    ax.set_xticks(xticks)
    ax.set_xticklabels([fmt(v) for v in xticks], family=NARROW, weight='bold', fontsize=30)
    ax.set_yticks([17.5, 18, 18.5])
    if side == 'left':
        ax.set_yticklabels(['17.5', '18', '18.5'], family=NARROW, weight='bold', fontsize=30)
        ax.spines['right'].set_visible(False)
        ax.tick_params(axis='y', direction='in', left=True, right=False, length=12, width=3, pad=8)
    else:
        ax.set_yticklabels([])
        ax.spines['left'].set_visible(False)
        ax.tick_params(axis='y', direction='in', left=False, right=True, length=12, width=3)
    ax.tick_params(axis='x', length=0, pad=14)
    ax.grid(ls=':', lw=1.8, color='#8a8a8a')
    ax.set_axisbelow(True)
    for s in ax.spines.values():
        s.set_linewidth(3.4)
        s.set_color('#303030')


def wave(fig, pts):
    xs = [p[0] / W for p in pts]
    ys = [1 - p[1] / H for p in pts]
    fig.add_artist(Line2D(xs, ys, transform=fig.transFigure, color='black', lw=2.0))


def inset(fig, outer, inner, mrac, prop, xlim, ylim, yticks):
    box = px_axes(fig, *outer)
    box.set_xticks([])
    box.set_yticks([])
    for s in box.spines.values():
        s.set_linewidth(5)
        s.set_color('black')
    ia = px_axes(fig, *inner)
    t, v = zip(*mrac)
    ia.plot(t, v, color='#2b2bff', lw=1.6)
    t, v = zip(*prop)
    ia.plot(t, v, color='#ff3030', lw=1.6)
    ia.set_xlim(*xlim)
    ia.set_ylim(*ylim)
    xt = [50, 50.5, 51, 51.5, 52, 52.5, 53]
    ia.set_xticks(xt)
    ia.set_xticklabels([fmt(v) for v in xt], family=SERIF, fontsize=8)
    ia.set_yticks(yticks)
    ia.set_yticklabels([fmt(v) for v in yticks], family=SERIF, fontsize=8)
    ia.tick_params(direction='in', length=3, width=0.8, pad=3, top=True, right=True)
    ia.grid(ls='-', lw=0.8, color='#dddddd')
    for s in ia.spines.values():
        s.set_linewidth(1.2)
        s.set_color('#777777')


fig = plt.figure(figsize=(W / 100, H / 100), dpi=100)

panels = [
    dict(x0=196, x1=2039, spd=(361, 986), acc=(1170, 1790), jrk=(1994, 2620),
         mod_s=spd_a_mod, lqr_s=spd_a_lqr, mrac_s=spd_a_mrac, prop_s=spd_a_prop,
         mod_a=acc_a_mod, lqr_a=acc_a_lqr, mrac_a=acc_a_mrac, prop_a=acc_a_prop,
         mrac_j=jrk_a_mrac, prop_j=jrk_a_prop, jlim=(-2.0, 1.2),
         jticks=[-2, -1.5, -1, -0.5, 0, 0.5, 1], ylx=(-0.038, -0.063, -0.063), serif_j=False,
         rect=(47.8, -0.04, 5.1, 0.87), arrow=((54.5, -0.11), (60.6, -0.29)),
         ins_outer=(1160, 2283, 1575, 2575), ins_inner=(1190, 2306, 1566, 2548),
         ins=(ins_a_mrac, ins_a_prop, (49.5, 53.5), (-0.115, 0.7), [-0.1, 0, 0.1, 0.2, 0.3, 0.4, 0.5, 0.6]),
         zoom=[((220, 51, 1022, 269), (5.3, 31.6), [10, 20, 30], 'left',
                [zm_a1_ref, zm_a1_mod, zm_a1_lqr, zm_a1_mrac, zm_a1_prop]),
               ((1200, 51, 2035, 269), (88.4, 112.4), [90, 100, 110], 'right',
                [zm_a2_ref, zm_a2_mod, zm_a2_lqr, zm_a2_mrac, zm_a2_prop])],
         waves=[[(1030, 32), (1044, 77), (1048, 119), (1038, 175), (1017, 231), (1000, 274), (1003, 291)],
                [(1203, 32), (1217, 84), (1224, 140), (1213, 203), (1190, 267), (1187, 288)]],
         tag='a', tag_x=1048),
    dict(x0=2337, x1=4189, spd=(356, 981), acc=(1170, 1795), jrk=(1999, 2626),
         mod_s=spd_b_mod, lqr_s=spd_b_lqr, mrac_s=spd_b_mrac, prop_s=spd_b_prop,
         mod_a=acc_b_mod, lqr_a=acc_b_lqr, mrac_a=acc_b_mrac, prop_a=acc_b_prop,
         mrac_j=jrk_b_mrac, prop_j=jrk_b_prop, jlim=(-1.8, 1.4),
         jticks=[-1.5, -1, -0.5, 0, 0.5, 1], ylx=(-0.039, -0.063, -0.063), serif_j=True,
         rect=(48.3, -0.2, 5.7, 1.17), arrow=((55.6, -0.24), (61.7, -0.32)),
         ins_outer=(3312, 2323, 3737, 2596), ins_inner=(3340, 2346, 3730, 2569),
         ins=(ins_b_mrac, ins_b_prop, (49.55, 53.06), (-0.16, 0.83), [0, 0.2, 0.4, 0.6, 0.8]),
         zoom=[((2344, 42, 3185, 262), (6.2, 34.0), [10, 20, 30], 'left',
                [zm_b1_ref, zm_b1_mod, zm_b1_lqr, zm_b1_mrac, zm_b1_prop]),
               ((3350, 42, 4189, 262), (87.3, 112.4), [90, 100, 110], 'right',
                [zm_b2_ref, zm_b2_mod, zm_b2_lqr, zm_b2_mrac, zm_b2_prop])],
         waves=[[(3177, 28), (3190, 84), (3193, 140), (3184, 210), (3163, 288)],
                [(3356, 28), (3369, 91), (3373, 140), (3360, 210), (3333, 281)]],
         tag='b', tag_x=3204),
]

for p in panels:
    x0, x1 = p['x0'], p['x1']

    # speed close-ups
    for box, xl, xt, side, series in p['zoom']:
        az = px_axes(fig, *box)
        for pts, st in zip(series, ['ref_spd', 'mod', 'lqr', 'mrac', 'prop']):
            draw(az, pts, st)
        style_zoom(az, xl, xt, (17.43, 18.55), side)
    for wv in p['waves']:
        wave(fig, wv)

    # speed
    ax = px_axes(fig, x0, p['spd'][0], x1, p['spd'][1])
    draw(ax, spd_ref, 'ref_spd', labels_main[0])
    draw(ax, p['mod_s'], 'mod', labels_main[1])
    draw(ax, p['lqr_s'], 'lqr', labels_main[2])
    draw(ax, p['mrac_s'], 'mrac', labels_main[3])
    draw(ax, p['prop_s'], 'prop', labels_main[4])
    style_main(ax, [10, 12, 14, 16, 18], (9.0, 19.5), 'Speed [m/s]', p['ylx'][0], -0.105)
    legend(ax, 21, (0.011, 0.966), 5)

    # acceleration
    ax = px_axes(fig, x0, p['acc'][0], x1, p['acc'][1])
    draw(ax, acc_ref, 'ref_acc', labels_main[0])
    draw(ax, p['mod_a'], 'mod', labels_main[1])
    draw(ax, p['lqr_a'], 'lqr', labels_main[2])
    draw(ax, p['mrac_a'], 'mrac', labels_main[3])
    draw(ax, p['prop_a'], 'prop', labels_main[4])
    style_main(ax, [-1, -0.5, 0, 0.5, 1], (-1.15, 1.15), 'Acceleration [m/s\u00b2]', p['ylx'][1], -0.105)
    legend(ax, 23, (0.011, 0.968), 5)

    # jerk
    ax = px_axes(fig, x0, p['jrk'][0], x1, p['jrk'][1])
    draw(ax, p['mrac_j'], 'mrac', 'MRAC')
    draw(ax, p['prop_j'], 'prop', 'Proposed')
    style_main(ax, p['jticks'], p['jlim'], 'Jerk [m/s\u00b3]', p['ylx'][2], -0.1,
               time_serif=p['serif_j'])
    legend(ax, 27, (0.011, 0.968), 2)
    rx, ry, rw, rh = p['rect']
    ax.add_patch(Rectangle((rx, ry), rw, rh, fill=False, ec='black', lw=5, ls=(0, (3, 2)), zorder=5))
    ax.annotate('', xy=p['arrow'][1], xytext=p['arrow'][0],
                arrowprops=dict(arrowstyle='->', lw=6, color='black', mutation_scale=45,
                                shrinkA=0, shrinkB=0), zorder=6)
    inset(fig, p['ins_outer'], p['ins_inner'], *p['ins'])

    fig.text(p['tag_x'] / W, 1 - 2828 / H, r'($\mathbf{%s}$)' % p['tag'], family=SERIF,
             math_fontfamily='stix', fontsize=50, ha='center', va='center')

fig.savefig('out.png', dpi=100)
